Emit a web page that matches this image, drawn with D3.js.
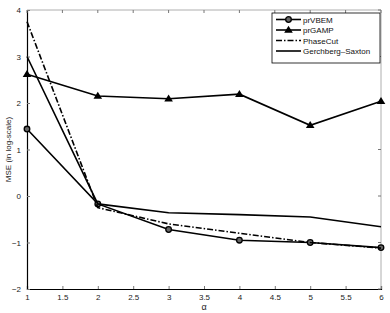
<!DOCTYPE html>
<html>
<head>
<meta charset="utf-8">
<script src="https://cdn.jsdelivr.net/npm/d3@7"></script>
<style>
  body { margin: 0; background: #fff; }
  svg text { font-family: "Liberation Sans", Arial, sans-serif; }
</style>
</head>
<body>
<svg id="chart"></svg>
<script>
// alpha values on the x axis
const alphas = [1, 2, 3, 4, 5, 6];

// MSE (log-scale) per method
const prVBEM = [1.44, -0.17, -0.72, -0.95, -1.0, -1.11];
const prGAMP = [2.62, 2.15, 2.09, 2.19, 1.52, 2.04];
const phaseCut = [3.75, -0.25, -0.6, -0.8, -1.0, -1.12];
const gerchberg = [3.0, -0.17, -0.36, -0.4, -0.45, -0.66];

const xTicks = [1, 1.5, 2, 2.5, 3, 3.5, 4, 4.5, 5, 5.5, 6];
const yTicks = [-2, -1, 0, 1, 2, 3, 4];

const series = [
  { name: "prVBEM", values: prVBEM, dash: null, marker: "circle" },
  { name: "prGAMP", values: prGAMP, dash: null, marker: "triangle" },
  { name: "PhaseCut", values: phaseCut, dash: "6,2,1.5,2", marker: null },
  { name: "Gerchberg\u2013Saxton", values: gerchberg, dash: null, marker: null }
];

const width = 390, height = 313;
const margin = { top: 10, right: 9, bottom: 24, left: 27 };

const svg = d3.select("#chart")
  .attr("width", width)
  .attr("height", height);

const x = d3.scaleLinear().domain([1, 6]).range([margin.left, width - margin.right]);
const y = d3.scaleLinear().domain([-2, 4]).range([height - margin.bottom, margin.top]);

// box (top/right lighter, like the matlab export)
svg.append("line").attr("x1", x(1)).attr("x2", x(6)).attr("y1", y(4)).attr("y2", y(4))
  .attr("stroke", "#999").attr("stroke-width", 0.8);
svg.append("line").attr("x1", x(6)).attr("x2", x(6)).attr("y1", y(4)).attr("y2", y(-2))
  .attr("stroke", "#999").attr("stroke-width", 0.8);

// axes with ticks pointing inwards
const xAxis = d3.axisBottom(x).tickValues(xTicks).tickSize(-3).tickPadding(5).tickFormat(d3.format("~g"));
const yAxis = d3.axisLeft(y).tickValues(yTicks).tickSize(-3).tickPadding(6)
  .tickFormat(d => d < 0 ? "\u2212" + Math.abs(d) : d);

const gx = svg.append("g")
  .attr("transform", `translate(0,${y(-2)})`)
  .call(xAxis);
const gy = svg.append("g")
  .attr("transform", `translate(${x(1)},0)`)
  .call(yAxis);

[gx, gy].forEach(g => {
  g.select(".domain").attr("stroke", "#000").attr("stroke-width", 1.2);
  g.selectAll(".tick line").attr("stroke", "#777");
  g.selectAll(".tick text").attr("font-size", 8).attr("fill", "#222");
});

// mirrored ticks on top and right
svg.append("g").selectAll("line").data(xTicks).join("line")
  .attr("x1", d => x(d)).attr("x2", d => x(d))
  .attr("y1", y(4)).attr("y2", y(4) + 3)
  .attr("stroke", "#777");
svg.append("g").selectAll("line").data(yTicks).join("line")
  .attr("x1", x(6)).attr("x2", x(6) - 3)
  .attr("y1", d => y(d)).attr("y2", d => y(d))
  .attr("stroke", "#777");

// axis titles
svg.append("text")
  .attr("x", (x(1) + x(6)) / 2)
  .attr("y", height - 3)
  .attr("text-anchor", "middle")
  .attr("font-size", 9)
  .attr("fill", "#222")
  .text("\u03b1");

svg.append("text")
  .attr("transform", `translate(11,${(y(-2) + y(4)) / 2}) rotate(-90)`)
  .attr("text-anchor", "middle")
  .attr("font-size", 8)
  .attr("fill", "#222")
  .text("MSE (in log-scale)");

// lines
const line = d3.line().x((d, i) => x(alphas[i])).y(d => y(d));

function drawMarker(g, type, cx, cy) {
  if (type === "circle") {
    g.append("circle").attr("cx", cx).attr("cy", cy).attr("r", 2.8)
      .attr("fill", "#666").attr("stroke", "#000").attr("stroke-width", 1.3);
  } else if (type === "triangle") {
    g.append("path")
      .attr("d", `M${cx},${cy - 4.2}L${cx + 4.3},${cy + 2.8}L${cx - 4.3},${cy + 2.8}Z`)
      .attr("fill", "#000");
  }
}

series.forEach(s => {
  const g = svg.append("g");
  g.append("path")
    .datum(s.values)
    .attr("d", line)
    .attr("fill", "none")
    .attr("stroke", "#000")
    .attr("stroke-width", 1.6)
    .attr("stroke-dasharray", s.dash);
  if (s.marker) {
    s.values.forEach((v, i) => drawMarker(g, s.marker, x(alphas[i]), y(v)));
  }
});

// legend
const lg = svg.append("g").attr("transform", "translate(272,13)");
lg.append("rect").attr("width", 108).attr("height", 50)
  .attr("fill", "#fff").attr("stroke", "#000").attr("stroke-width", 0.8);
series.forEach((s, i) => {
  const yy = 6.5 + i * 10.5;
  lg.append("line").attr("x1", 4).attr("x2", 29).attr("y1", yy).attr("y2", yy)
    .attr("stroke", "#000").attr("stroke-width", 1.6)
    .attr("stroke-dasharray", s.dash);
  if (s.marker) drawMarker(lg, s.marker, 16.5, yy);
  lg.append("text").attr("x", 31).attr("y", yy + 3)
    .attr("font-size", 8).attr("fill", "#111").text(s.name);
});
</script>
</body>
</html>
